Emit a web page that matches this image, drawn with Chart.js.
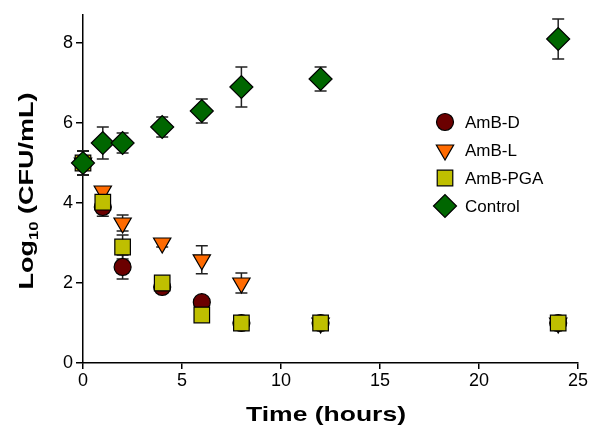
<!DOCTYPE html>
<html lang="en">
<head>
  <meta charset="UTF-8">
  <title>Log10 CFU/mL over time</title>
  <style>
    body { margin: 0; padding: 0; background: #fff; }
    .chart-box { width: 589px; height: 432px; position: relative; }
  </style>
  <script src="https://cdn.jsdelivr.net/npm/chart.js"></script>
</head>
<body>
  <div class="chart-box">
    <canvas id="myChart" width="589" height="432"></canvas>
  </div>
  <script>
    // values
    const hours = [0, 1, 2, 4, 6, 8, 12, 24];
    const ambD = [5.0, 3.9, 2.4, 1.9, 1.52, 1.0, 1.0, 1.0];
    const ambDErr = [0.3, 0.23, 0.3, 0.1, 0.1, 0.1, 0.15, 0.15];
    const ambL = [5.0, 4.3, 3.5, 3.0, 2.58, 2.0, 1.0, 1.0];
    const ambLErr = [0.3, 0.1, 0.2, 0.1, 0.35, 0.25, 0.1, 0.1];
    const ambPGA = [5.0, 4.02, 2.9, 2.0, 1.2, 1.0, 1.0, 1.0];
    const ambPGAErr = [0.3, 0.1, 0.3, 0.1, 0.1, 0.1, 0.12, 0.12];
    const control = [5.0, 5.5, 5.5, 5.9, 6.3, 6.9, 7.1, 8.1];
    const controlErr = [0.3, 0.4, 0.25, 0.25, 0.3, 0.5, 0.3, 0.5];
    const xTicks = [0, 5, 10, 15, 20, 25];
    const yTicks = [0, 2, 4, 6, 8];

    const FONT = 'Liberation Sans, Arial, sans-serif';

    function pts(vals, errs) {
      return hours.map((h, i) => ({ x: h, y: vals[i], err: errs[i] }));
    }

    const datasets = [
      { label: 'AmB-D', data: pts(ambD, ambDErr), pointStyle: 'circle', pointRadius: 8.5,
        backgroundColor: '#6b0000', order: 2 },
      { label: 'AmB-L', data: pts(ambL, ambLErr), pointStyle: 'triangle', rotation: 180, pointRadius: 10,
        backgroundColor: '#ff6a00', order: 3 },
      { label: 'AmB-PGA', data: pts(ambPGA, ambPGAErr), pointStyle: 'rect', pointRadius: 11,
        backgroundColor: '#bfbf00', order: 1 },
      { label: 'Control', data: pts(control, controlErr), pointStyle: 'rectRot', pointRadius: 11.5,
        backgroundColor: '#006600', order: 0 }
    ];
    datasets.forEach(ds => {
      ds.showLine = false;
      ds.clip = false;
      ds.borderColor = '#000';
      ds.borderWidth = 1.2;
      ds.pointBackgroundColor = ds.backgroundColor;
      ds.pointBorderColor = '#000';
      ds.pointHoverRadius = ds.pointRadius;
      ds.pointRotation = ds.rotation || 0;
    });

    // error bars, drawn below all markers
    const errorBars = {
      id: 'errorBars',
      beforeDatasetsDraw(chart) {
        const ctx = chart.ctx;
        const xs = chart.scales.x, ys = chart.scales.y;
        ctx.save();
        ctx.strokeStyle = '#222';
        ctx.lineWidth = 1.5;
        chart.data.datasets.forEach(ds => {
          ds.data.forEach(p => {
            const px = xs.getPixelForValue(p.x);
            const top = ys.getPixelForValue(p.y + p.err);
            const bot = ys.getPixelForValue(p.y - p.err);
            ctx.beginPath();
            ctx.moveTo(px, top); ctx.lineTo(px, bot);
            ctx.moveTo(px - 6, top); ctx.lineTo(px + 6, top);
            ctx.moveTo(px - 6, bot); ctx.lineTo(px + 6, bot);
            ctx.stroke();
          });
        });
        ctx.restore();
      }
    };

    // legend inside the plot + axis titles
    const extras = {
      id: 'extras',
      afterDraw(chart) {
        const ctx = chart.ctx;
        const rows = [122, 150, 178, 206];
        chart.data.datasets.forEach((ds, i) => {
          ctx.save();
          ctx.fillStyle = ds.backgroundColor;
          ctx.strokeStyle = '#000';
          ctx.lineWidth = 1.2;
          Chart.helpers.drawPoint(ctx, {
            pointStyle: ds.pointStyle, radius: ds.pointRadius, rotation: ds.pointRotation,
            borderWidth: 1.2
          }, 445, rows[i]);
          ctx.restore();
        });
        ctx.save();
        ctx.font = '17px ' + FONT;
        ctx.fillStyle = '#000';
        ctx.textBaseline = 'middle';
        chart.data.datasets.forEach((ds, i) => ctx.fillText(ds.label, 465, rows[i] + 1));
        ctx.restore();

        const big = 'bold 21px ' + FONT, small = 'bold 13px ' + FONT;

        // x axis title, stretched like the original
        ctx.save();
        ctx.font = big;
        ctx.fillStyle = '#000';
        ctx.textBaseline = 'alphabetic';
        const tw = ctx.measureText('Time (hours)').width;
        ctx.translate(326, 421);
        ctx.scale(160 / tw, 1);
        ctx.textAlign = 'center';
        ctx.fillText('Time (hours)', 0, 0);
        ctx.restore();

        // y axis title with subscript
        ctx.save();
        ctx.translate(33, 191);
        ctx.rotate(-Math.PI / 2);
        ctx.fillStyle = '#000';
        ctx.textBaseline = 'alphabetic';
        ctx.font = big; const w1 = ctx.measureText('Log').width;
        ctx.font = small; const w2 = ctx.measureText('10').width;
        ctx.font = big; const w3 = ctx.measureText(' (CFU/mL)').width;
        const total = w1 + w2 + w3;
        ctx.scale(197 / total, 1);
        let x0 = -total / 2;
        ctx.font = big; ctx.fillText('Log', x0, 0);
        ctx.font = small; ctx.fillText('10', x0 + w1, 5);
        ctx.font = big; ctx.fillText(' (CFU/mL)', x0 + w1 + w2, 0);
        ctx.restore();
      }
    };

    const ctx = document.getElementById('myChart').getContext('2d');
    const myChart = new Chart(ctx, {
      type: 'scatter',
      data: { datasets: datasets },
      plugins: [errorBars, extras],
      options: {
        responsive: false,
        animation: false,
        layout: { autoPadding: false, padding: { top: 15, right: 10, left: 0, bottom: 0 } },
        plugins: { legend: { display: false }, tooltip: { enabled: false } },
        scales: {
          x: {
            type: 'linear', min: 0, max: 25,
            afterBuildTicks: s => { s.ticks = xTicks.map(v => ({ value: v })); },
            afterFit: s => { s.height = 69; },
            grid: { display: true, drawOnChartArea: false, color: '#000', tickLength: 6, lineWidth: 1.5 },
            border: { color: '#000', width: 1.5 },
            ticks: { color: '#000', font: { family: FONT, size: 18 }, padding: 1, maxRotation: 0 }
          },
          y: {
            type: 'linear', min: 0, max: 8.7,
            afterBuildTicks: s => { s.ticks = yTicks.map(v => ({ value: v })); },
            afterFit: s => { s.width = 83; },
            grid: { display: true, drawOnChartArea: false, color: '#000', tickLength: 7, lineWidth: 1.5 },
            border: { color: '#000', width: 1.5 },
            ticks: { color: '#000', font: { family: FONT, size: 18 }, padding: 3 }
          }
        }
      }
    });
  </script>
</body>
</html>
